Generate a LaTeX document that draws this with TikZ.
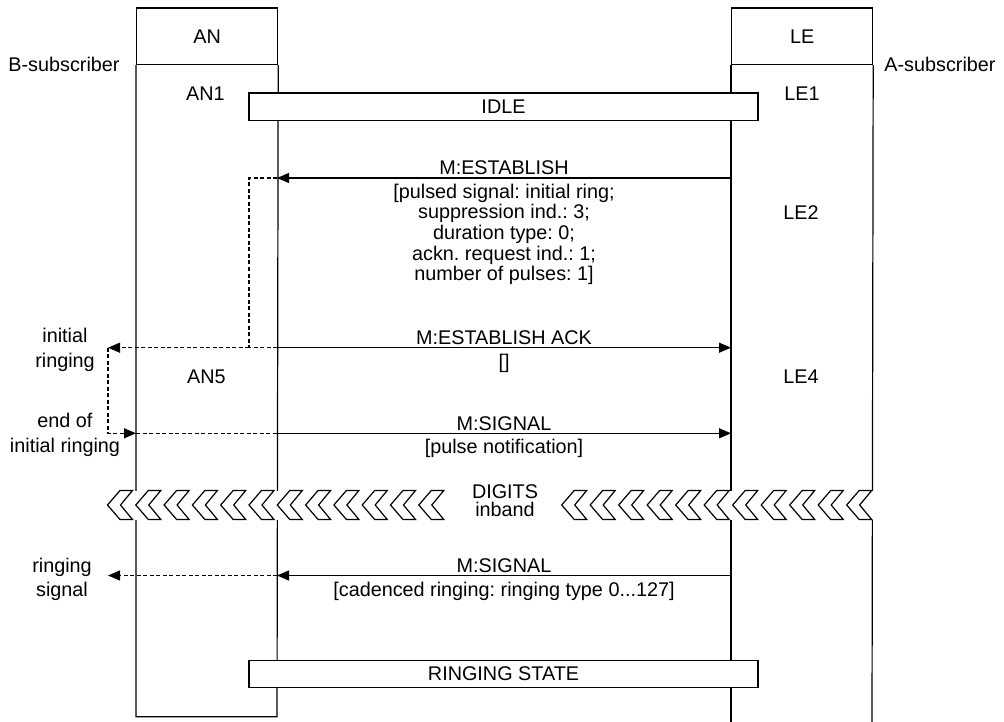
\documentclass[tikz,border=0pt]{standalone}
\usepackage{fontspec}
\setmainfont{Liberation Sans}
\usetikzlibrary{arrows.meta}
\frenchspacing
\begin{document}
\begin{tikzpicture}[x=1pt,y=-1pt,
  every node/.style={font=\fontsize{19.8}{23}\selectfont, inner sep=0pt},
  lbl/.style={anchor=base},
  lifeline/.style={line width=1.2pt},
  headbox/.style={draw, line width=1.2pt, anchor=north west, minimum width=141pt, minimum height=56.5pt},
  msg/.style={line width=1.2pt, -{Triangle[length=12pt,width=10pt]}},
  dsh/.style={line width=1.2pt, dash pattern=on 4pt off 2.5pt},
  dsharrow/.style={dsh, -{Triangle[length=12pt,width=10pt]}},
  statebox/.style={draw, fill=white, line width=1.2pt, minimum width=509pt, minimum height=27.5pt},
  chev/.style={draw, fill=white, line width=1.2pt, line join=miter}
]
\useasboundingbox (0,0) rectangle (1004,722);

% headers
\node[headbox] (ANhead) at (136,7.5) {AN};
\node[headbox] (LEhead) at (731,7.5) {LE};

% lifelines
\coordinate (ANbl) at (136,716.7);
\coordinate (ANbr) at (277,716.7);
\coordinate (LEbl) at (731,722);
\coordinate (LEbr) at (872,722);
\draw[lifeline] (ANhead.south west) -- (ANbl) -- (ANbr) -- (ANhead.south east);
\draw[lifeline] (LEhead.south west) -- (LEbl);
\draw[lifeline] (LEhead.south east) -- (LEbr);

% digits band
\fill[white] (100,490.5) rectangle (880,519.5);
\foreach \k in {0,...,11} {
  \pgfmathsetmacro\xx{107.5+28.3*\k}
  \draw[chev] (\xx,505) -- ++(12.5,-14.5) -- ++(12.5,0) -- ++(-12,14.5) -- ++(12,14.5) -- ++(-12.5,0) -- cycle;
}
\foreach \k in {0,...,10} {
  \pgfmathsetmacro\xx{561.7+28.5*\k}
  \draw[chev] (\xx,505) -- ++(12.5,-14.5) -- ++(12.5,0) -- ++(-12,14.5) -- ++(12,14.5) -- ++(-12.5,0) -- cycle;
}
\node[lbl] (digits) at (505,498.5) {DIGITS};
\node[lbl] (inband) at (505,516.5) {inband};

% side labels
\node[lbl] (bsub) at (64,72) {B-subscriber};
\node[lbl] (asub) at (940,72) {A-subscriber};
\node[lbl] (an1) at (205.5,101) {AN1};
\node[lbl] (le1) at (802,101) {LE1};
\node[lbl] (le2) at (801,220) {LE2};
\node[lbl] (an5) at (206.5,383.5) {AN5};
\node[lbl] (le4) at (801,383.5) {LE4};

% state boxes
\node[statebox] (idle) at (503.5,106.75) {IDLE};
\node[statebox] (ringst) at (503.5,674) {RINGING STATE};

% coordinates
\coordinate (leL1) at (731,178);
\coordinate (anR1) at (277,178);
\coordinate (c1) at (249,178);
\coordinate (c2) at (249,347.7);
\coordinate (tip1) at (108,347.7);
\coordinate (anR2) at (277,347.7);
\coordinate (leL2) at (731,347.7);
\coordinate (c3) at (108,433.3);
\coordinate (anL3) at (136,433.3);
\coordinate (anR3) at (277,433.3);
\coordinate (leL3) at (731,433.3);
\coordinate (leL4) at (731,575.5);
\coordinate (anR4) at (277,575.5);
\coordinate (tip4) at (108,575.5);

% M:ESTABLISH
\draw[msg] (leL1) -- (anR1);
\node[lbl] (m1) at (504,175) {M:ESTABLISH};
\node[lbl] (m1a) at (504,198.5) {[pulsed signal: initial ring;};
\node[lbl] (m1b) at (504,219) {suppression ind.: 3;};
\node[lbl] (m1c) at (504,239.5) {duration type: 0;};
\node[lbl] (m1d) at (504,260) {ackn. request ind.: 1;};
\node[lbl] (m1e) at (504,280.5) {number of pulses: 1]};
\draw[dsh] (anR1) -- (c1) -- (c2);
\draw[dsh] (anR2) -- (c2);
\draw[dsharrow] (c2) -- (tip1);

% M:ESTABLISH ACK
\draw[msg] (anR2) -- (leL2);
\node[lbl] (m2) at (504,344.5) {M:ESTABLISH ACK};
\node[lbl] (m2b) at (504,368) {[]};
\node[lbl] (ir1) at (65,342) {initial};
\node[lbl] (ir2) at (65,367) {ringing};

% M:SIGNAL pulse notification
\draw[dsharrow] (tip1) -- (c3) -- (anL3);
\draw[dsh] (anL3) -- (anR3);
\draw[msg] (anR3) -- (leL3);
\node[lbl] (m3) at (504,430) {M:SIGNAL};
\node[lbl] (m3b) at (504,453.5) {[pulse notification]};
\node[lbl] (eir1) at (65,427) {end of};
\node[lbl] (eir2) at (65,452) {initial ringing};

% M:SIGNAL cadenced ringing
\draw[msg] (leL4) -- (anR4);
\draw[dsharrow] (anR4) -- (tip4);
\node[lbl] (m4) at (504,572.5) {M:SIGNAL};
\node[lbl] (m4b) at (504,596) {[cadenced ringing: ringing type 0...127]};
\node[lbl] (rs1) at (62,572) {ringing};
\node[lbl] (rs2) at (62,596) {signal};
\end{tikzpicture}
\end{document}
